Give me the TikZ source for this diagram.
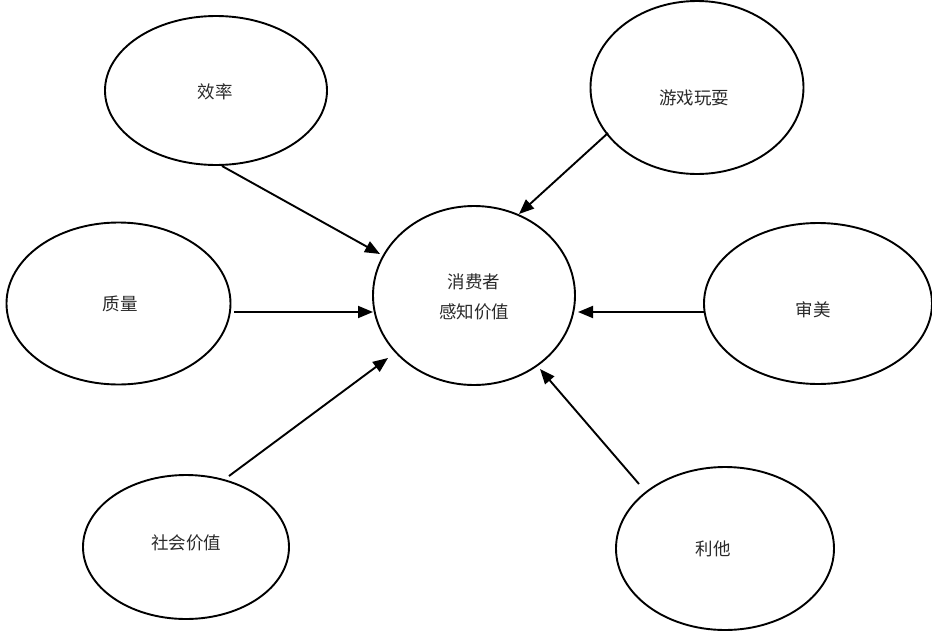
\documentclass[tikz,border=0pt]{standalone}
\usepackage{fontspec}
\newfontfamily\cjk{Noto Sans CJK SC}
\usetikzlibrary{shapes.geometric,arrows.meta}
\definecolor{txt}{HTML}{2A2A2A}
\tikzset{
  oval/.style={draw=black, line width=1.9pt, ellipse, inner sep=0pt},
  lbl/.style={font=\cjk\fontsize{17.5}{30}\selectfont, text=txt, align=center},
  arr/.style={line width=1.9pt, -{Triangle[length=15pt,width=12pt]}}
}
\begin{document}
\begin{tikzpicture}[x=1pt,y=-1pt]
\useasboundingbox (0,0) rectangle (932,632);
% ellipses
\node[oval, minimum width=222pt, minimum height=149pt] (xl) at (216,90.5) {};
\node[oval, minimum width=213pt, minimum height=173pt] (yx) at (697,87.5) {};
\node[oval, minimum width=224pt, minimum height=162pt] (zl) at (118.5,303.5) {};
\node[oval, minimum width=202pt, minimum height=179pt] (cv) at (474,295.5) {};
\node[oval, minimum width=228pt, minimum height=161pt] (sm) at (818,303.5) {};
\node[oval, minimum width=206pt, minimum height=144pt] (sh) at (186,547) {};
\node[oval, minimum width=218pt, minimum height=163pt] (lt) at (725,548.5) {};
% labels
\node[lbl] (txl) at (215,92) {效率};
\node[lbl] (tyx) at (694,98) {游戏玩耍};
\node[lbl] (tzl) at (120,304) {质量};
\node[lbl] (tcv) at (474,297) {消费者\\感知价值};
\node[lbl] (tsm) at (813,310) {审美};
\node[lbl] (tsh) at (186,543) {社会价值};
\node[lbl] (tlt) at (713,549) {利他};
% connector end points
\coordinate (a1) at (222,166); \coordinate (b1) at (380,254);
\coordinate (a2) at (608,133); \coordinate (b2) at (519,214);
\coordinate (a3) at (234,312); \coordinate (b3) at (373,312);
\coordinate (a4) at (704,312); \coordinate (b4) at (578,312);
\coordinate (a5) at (229,476); \coordinate (b5) at (388,358);
\coordinate (a6) at (639,484); \coordinate (b6) at (540,369);
\draw[arr] (a1) -- (b1);
\draw[arr] (a2) -- (b2);
\draw[arr] (a3) -- (b3);
\draw[arr] (a4) -- (b4);
\draw[arr] (a5) -- (b5);
\draw[arr] (a6) -- (b6);
\end{tikzpicture}
\end{document}
